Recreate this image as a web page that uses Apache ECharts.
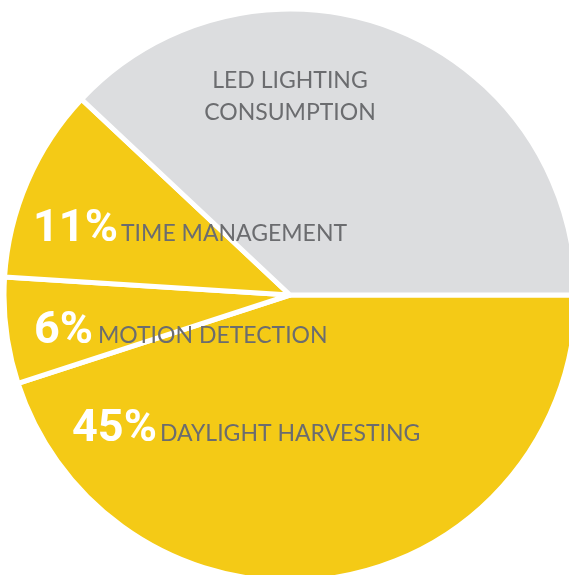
<!DOCTYPE html>
<html>
<head>
<meta charset="utf-8">
<script src="https://cdn.jsdelivr.net/npm/echarts@6/dist/echarts.min.js"></script>
<style>
  html, body { margin: 0; padding: 0; background: #ffffff; }
  #chart { width: 569px; height: 575px; }
</style>
</head>
<body>
<div id="chart"></div>
<script>
// Lighting energy breakdown, drawn clockwise from 3 o'clock
const categories = ['DAYLIGHT HARVESTING', 'MOTION DETECTION', 'TIME MANAGEMENT', 'LED LIGHTING CONSUMPTION'];
const shares = [45, 6, 11, 38];
const percentLabels = ['45%', '6%', '11%', ''];

const YELLOW = '#F4CA16';
const GREY = '#DCDDDF';
const TEXT = '#6B6C6F';

// label block placement per slice: top-left corner and width of the percentage cell
const labelAnchors = [
  { x: 72, y: 406, align: 'left', verticalAlign: 'top', pctWidth: 88 },
  { x: 34, y: 308, align: 'left', verticalAlign: 'top', pctWidth: 64 },
  { x: 33, y: 206, align: 'left', verticalAlign: 'top', pctWidth: 88 },
  { x: 290, y: 65, align: 'center', verticalAlign: 'top', pctWidth: 0 }
];

const data = categories.map(function (name, i) {
  const isLed = i === 3;
  const item = {
    name: name,
    value: shares[i],
    itemStyle: { color: isLed ? GREY : YELLOW },
    label: {
      formatter: isLed
        ? '{n|LED LIGHTING}\n{n|CONSUMPTION}'
        : '{p|' + percentLabels[i] + '}{t|' + name + '}'
    }
  };
  if (!isLed) {
    item.label.rich = { p: { width: labelAnchors[i].pctWidth } };
  }
  return item;
});

const chart = echarts.init(document.getElementById('chart'), null, { renderer: 'canvas' });
chart.setOption({
  animation: false,
  series: [{
    type: 'pie',
    center: [290, 295],
    radius: 286,
    startAngle: 0,
    clockwise: true,
    avoidLabelOverlap: false,
    silent: true,
    itemStyle: { borderColor: '#ffffff', borderWidth: 5 },
    labelLine: { show: false },
    label: {
      show: true,
      position: 'inside',
      rich: {
        p: {
          fontFamily: 'Roboto, "Liberation Sans", sans-serif',
          fontWeight: 'bold',
          fontSize: 45,
          color: '#ffffff',
          lineHeight: 44,
          align: 'left',
          padding: [4, 0, 0, 0]
        },
        t: {
          fontFamily: 'Lato, "Open Sans", sans-serif',
          fontSize: 23,
          color: TEXT,
          lineHeight: 44,
          padding: [12, 0, 0, 0]
        },
        n: {
          fontFamily: 'Lato, "Open Sans", sans-serif',
          fontSize: 23,
          color: TEXT,
          lineHeight: 32,
          align: 'center'
        }
      }
    },
    labelLayout: function (params) {
      const a = labelAnchors[params.dataIndex];
      return { x: a.x, y: a.y, align: a.align, verticalAlign: a.verticalAlign };
    },
    data: data
  }]
});
</script>
</body>
</html>
